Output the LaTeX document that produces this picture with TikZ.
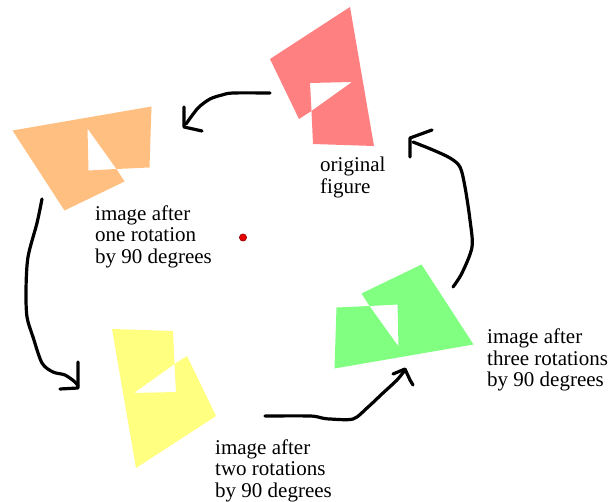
\documentclass[tikz,border=0pt]{standalone}
\usepackage{fontspec}
\setmainfont{Liberation Serif}
\definecolor{shapered}{RGB}{255,128,128}
\definecolor{shapeorange}{RGB}{255,191,128}
\definecolor{shapeyellow}{RGB}{255,255,128}
\definecolor{shapegreen}{RGB}{128,255,128}
\definecolor{dotred}{RGB}{230,0,0}
\definecolor{dotedge}{RGB}{140,0,0}
% the figure with its triangular hole, in pixel-like units
\newcommand\motif[1]{%
  \fill[#1, even odd rule]
    (270,59) -- (350,7) -- (374,146) -- (313,144) -- (311.5,111) -- (299,119) -- cycle
    (310,83) -- (352,82) -- (311.5,111) -- cycle;}
\begin{document}
\begin{tikzpicture}[x=1pt, y=-1pt,
  sketch/.style={line width=3.2pt, line cap=round, line join=round, black},
  caption/.style={font=\fontsize{21}{21.5}\selectfont, align=left, anchor=base west, inner sep=0pt}]
\useasboundingbox (0,0) rectangle (609,502);
\coordinate (centre) at (243,237.5);

% the four copies, each turned a further quarter turn about the centre
\motif{shapered}
\begin{scope}[rotate around={90:(centre)}]\motif{shapeorange}\end{scope}
\begin{scope}[rotate around={180:(centre)}]\motif{shapeyellow}\end{scope}
\begin{scope}[rotate around={270:(centre)}]\motif{shapegreen}\end{scope}

% centre of rotation
\fill[dotred, draw=dotedge, line width=0.6pt] (centre) circle (3.6pt);

% hand-drawn arrows
\draw[sketch] plot[smooth, tension=0.5] coordinates {(270,93) (233,93) (222,95) (210,99) (198,108) (186,124)};
\draw[sketch] (184,107) -- (184,127) -- (202,131);

\draw[sketch] plot[smooth, tension=0.5] coordinates {(42,199) (37,223) (28,257) (26,290) (27,317) (33,337) (42,363) (53,372) (65,375) (75,382) (78,386)};
\draw[sketch] (78,362) -- (78,388) -- (60,389);

\draw[sketch] plot[smooth, tension=0.5] coordinates {(265,416) (310,416) (322,418) (330,419) (353,419) (367,408) (383,393) (397,380) (405,370)};
\draw[sketch] (393,374) -- (405,369) -- (410,380) -- (413,385);

\draw[sketch] plot[smooth, tension=0.5] coordinates {(453,287) (462,273) (472,247) (470,220) (465,187) (460,167) (450,158) (433,150) (413,142)};
\draw[sketch] (432,130) -- (410,138) -- (410,157);

% captions (anchored at the baseline of their last line)
\node[caption] (orig) at (320,193.3) {original\\figure};
\node[caption] (one) at (95,263.3) {image after\\one rotation\\by 90 degrees};
\node[caption] (two) at (215,497.3) {image after\\two rotations\\by 90 degrees};
\node[caption] (three) at (487,386.7) {image after\\three rotations\\by 90 degrees};
\end{tikzpicture}
\end{document}
